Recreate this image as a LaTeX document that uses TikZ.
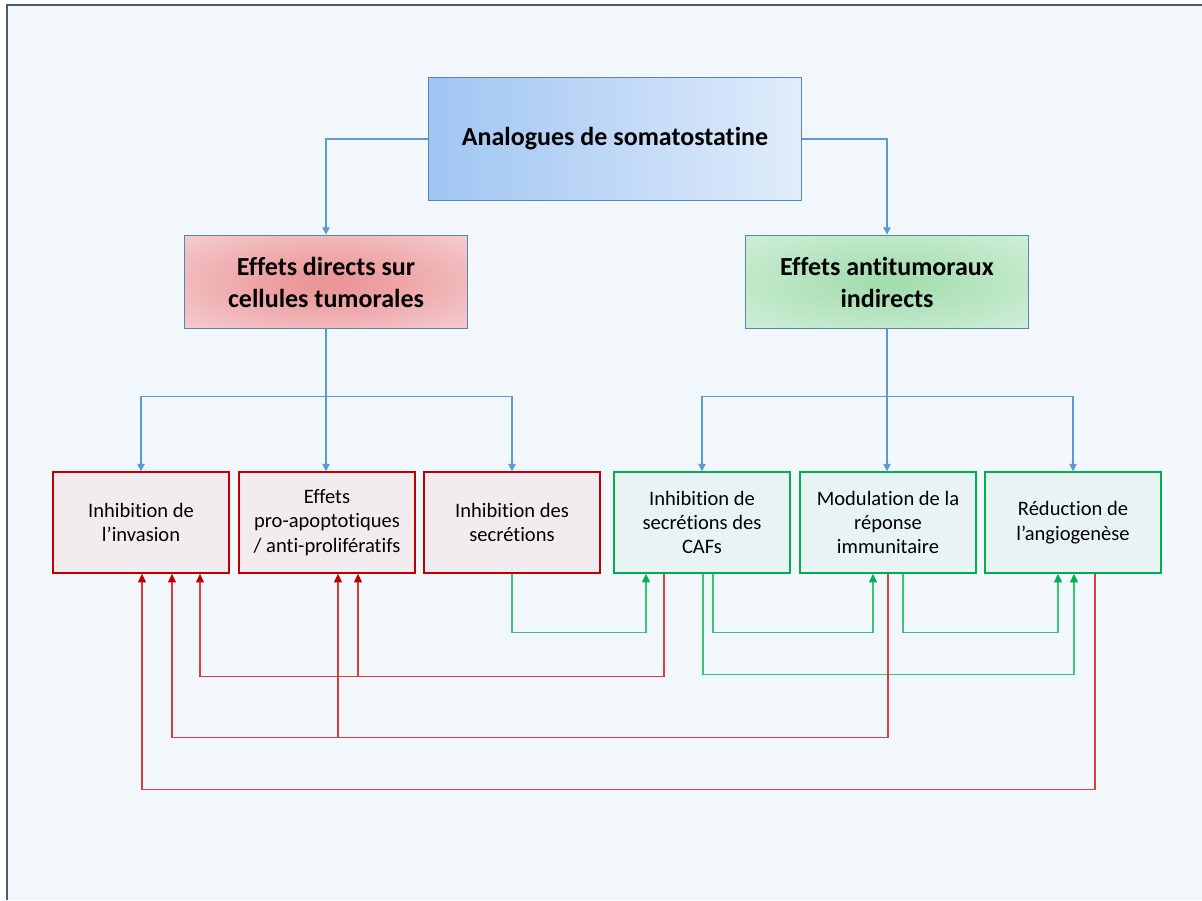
\documentclass[tikz,border=0pt]{standalone}
\usepackage{fontspec}
\setmainfont{Carlito}[Ligatures=NoCommon]
\usepackage{tikz}
\usetikzlibrary{arrows.meta,calc}
\definecolor{bgcolor}{RGB}{242, 247, 252}
\definecolor{framecolor}{RGB}{75, 91, 110}
\definecolor{bluelinecolor}{RGB}{91, 155, 213}
\definecolor{blueedge}{RGB}{88, 132, 182}
\definecolor{topleftcolor}{RGB}{160, 197, 243}
\definecolor{toprightcolor}{RGB}{224, 236, 250}
\definecolor{redinner}{RGB}{235, 150, 152}
\definecolor{redouter}{RGB}{247, 222, 224}
\definecolor{greeninner}{RGB}{165, 222, 176}
\definecolor{greenouter}{RGB}{222, 243, 228}
\definecolor{darkred}{RGB}{192, 0, 0}
\definecolor{redlinecolor}{RGB}{212, 64, 64}
\definecolor{redfill}{RGB}{242, 236, 240}
\definecolor{darkgreen}{RGB}{0, 176, 80}
\definecolor{greenlinecolor}{RGB}{60, 196, 120}
\definecolor{greenfill}{RGB}{232, 244, 243}
\pgfdeclareradialshading{softred}{\pgfpoint{0bp}{0bp}}{color(0bp)=(redinner);
    color(4bp)=(redinner); color(46bp)=(redouter); color(80bp)=(redouter)}
\pgfdeclareradialshading{softgreen}{\pgfpoint{0bp}{0bp}}{color(0bp)=(greeninner);
    color(4bp)=(greeninner); color(46bp)=(greenouter); color(80bp)=(greenouter)}

\begin{document}
\begin{tikzpicture}[x=0.75pt, y=-0.75pt,
    topbox/.style={draw=blueedge, line width=1.1pt, left color=topleftcolor,
        right color=toprightcolor, minimum width=280pt, minimum height=92pt,
        align=center, font=\fontsize{19.5}{23.5}\selectfont\bfseries},
    directbox/.style={draw=blueedge, line width=1.1pt, shading=softred,
        minimum width=212pt, minimum height=70pt,
        align=center, font=\fontsize{19.5}{24}\selectfont\bfseries},
    indirectbox/.style={directbox, shading=softgreen},
    redbox/.style={draw=darkred, line width=1.1pt, fill=redfill,
        minimum width=132pt, minimum height=75.75pt, align=center,
        font=\fontsize{15.4}{18.3}\selectfont},
    greenbox/.style={redbox, draw=darkgreen, fill=greenfill},
    blueline/.style={draw=bluelinecolor, line width=0.8pt,
        -{Triangle[width=5.5pt,length=5.5pt]}},
    redline/.style={draw=redlinecolor, line width=0.8pt,
        -{Triangle[width=6pt,length=6.5pt,color=darkred]}},
    greenline/.style={draw=greenlinecolor, line width=0.8pt,
        -{Triangle[width=6pt,length=6.5pt,color=darkgreen]}}]

    % Background and frame
    \useasboundingbox (0,0) rectangle (1202,900);
    \fill[white] (0,0) rectangle (1202,900);
    \fill[bgcolor] (7,5) rectangle (1202,900);
    \draw[framecolor, line width=1.6pt] (7,900) -- (7,5) -- (1202,5);

    % Main boxes
    \node[topbox] (sst) at (615,139) {Analogues de somatostatine};
    \node[directbox] (direct) at (326,282) {Effets directs sur\\cellules tumorales};
    \node[indirectbox] (indirect) at (887,282) {Effets antitumoraux\\indirects};

    % Effect boxes
    \node[redbox] (invasion) at (141,522.5) {Inhibition de\\l’invasion};
    \node[redbox] (apoptose) at (327,522.5) {Effets\\pro-apoptotiques\\/ anti-prolifératifs};
    \node[redbox] (secretion) at (512,522.5) {Inhibition des\\secrétions};
    \node[greenbox] (caf) at (702,522.5) {Inhibition de\\secrétions des\\CAFs};
    \node[greenbox] (immun) at (888,522.5) {Modulation de la\\réponse\\immunitaire};
    \node[greenbox] (angio) at (1073,522.5) {Réduction de\\l’angiogenèse};

    % Tree connectors
    \draw[blueline] (sst.west) -| (direct.north);
    \draw[blueline] (sst.east) -| (indirect.north);
    \draw[blueline] (direct.south) -- ++(0,67) -| (invasion.north);
    \draw[blueline] (direct.south) -- (direct.south |- apoptose.north);
    \draw[blueline] (direct.south) -- ++(0,67) -| (secretion.north);
    \draw[blueline] (indirect.south) -- ++(0,67) -| (caf.north);
    \draw[blueline] (indirect.south) -- (indirect.south |- immun.north);
    \draw[blueline] (indirect.south) -- ++(0,67) -| (angio.north);

    % Green feedback loops
    \draw[greenline] (secretion.south) -- ++(0,59) -| ($(caf.south)+(-56,0)$);
    \draw[greenline] ($(caf.south)+(11,0)$) -- ++(0,59) -| ($(immun.south)+(-15,0)$);
    \draw[greenline] ($(immun.south)+(15,0)$) -- ++(0,59) -| ($(angio.south)+(-15,0)$);
    \draw[greenline] ($(caf.south)+(1,0)$) -- ++(0,101) -| ($(angio.south)+(1,0)$);

    % Red feedback loops
    \draw[redline] ($(caf.south)+(-38,0)$) -- ++(0,103) -| ($(invasion.south)+(59,0)$);
    \draw[redline] ($(apoptose.south)+(31,103)$) -- ($(apoptose.south)+(31,0)$);
    \draw[redline] (immun.south) -- ++(0,164) -| ($(invasion.south)+(31,0)$);
    \draw[redline] ($(apoptose.south)+(11,164)$) -- ($(apoptose.south)+(11,0)$);
    \draw[redline] ($(angio.south)+(22,0)$) -- ++(0,216) -| ($(invasion.south)+(1,0)$);
\end{tikzpicture}
\end{document}
